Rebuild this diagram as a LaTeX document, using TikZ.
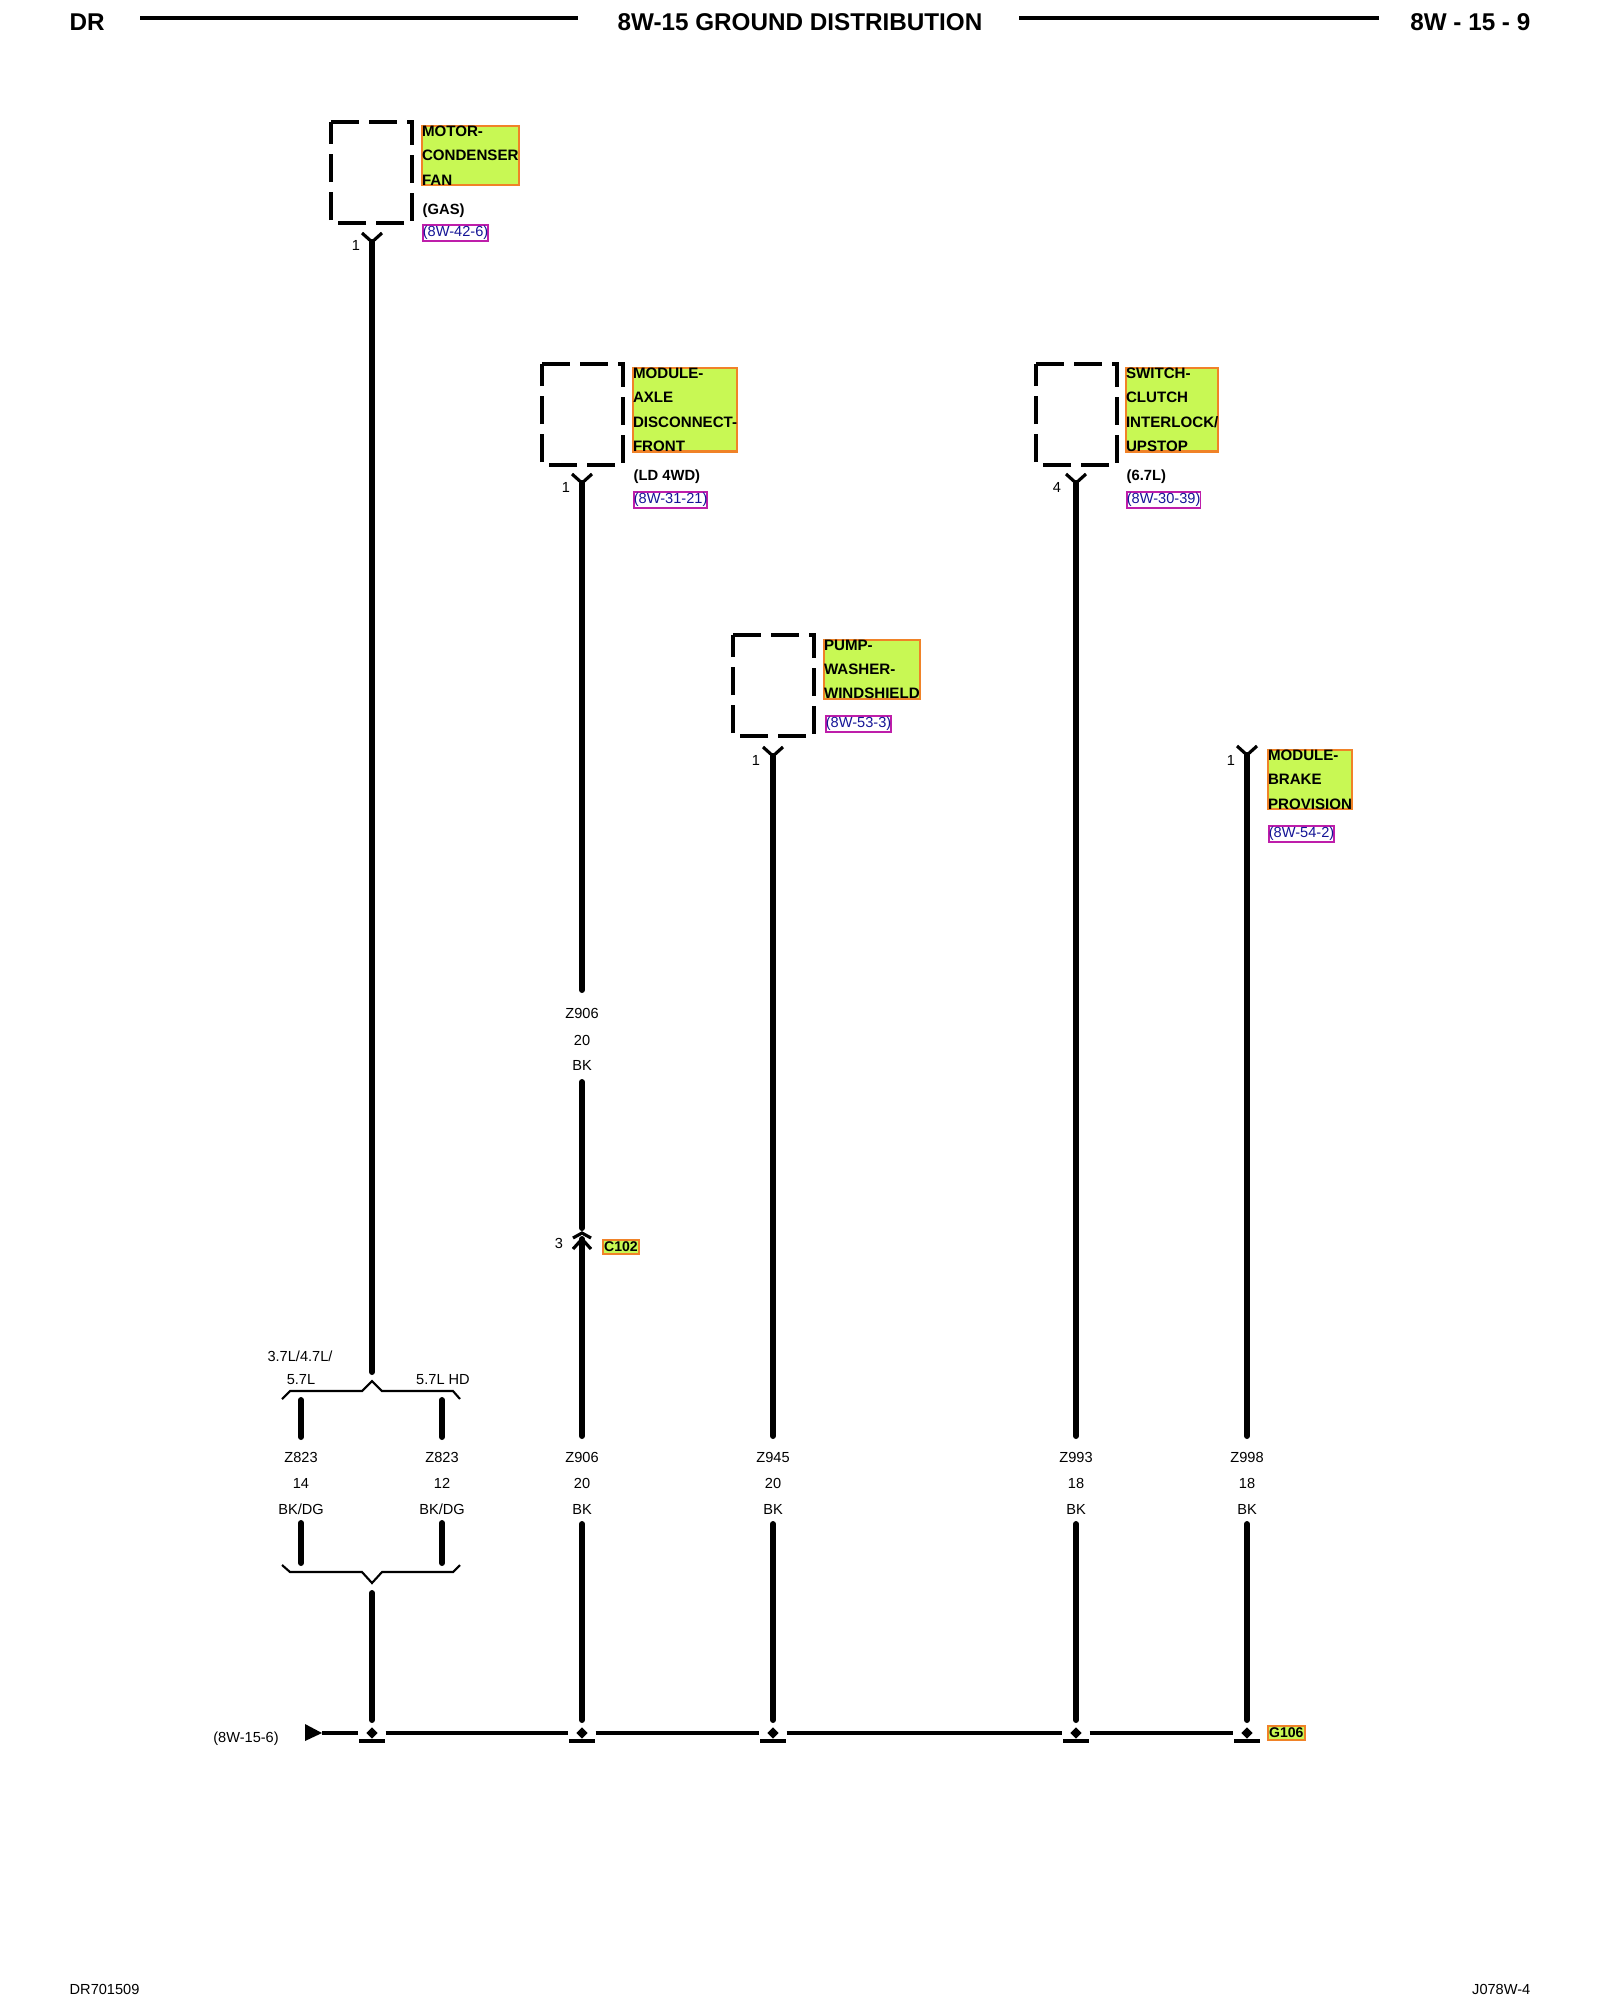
\documentclass[tikz,border=0pt]{standalone}
\usepackage{fontspec}
\setmainfont{Liberation Sans}
\usepackage{xcolor}
\usetikzlibrary{shapes.geometric}

\definecolor{tagfill}{RGB}{200,248,84}
\definecolor{tagedge}{RGB}{240,130,40}
\definecolor{refedge}{RGB}{190,30,170}
\definecolor{reftext}{RGB}{20,20,150}

\tikzset{
  wire/.style={line width=1.7pt, line cap=round},
  bus/.style={line width=1.1pt},
  busline/.style={line width=1.1pt, shorten <=0.07cm, shorten >=0.07cm},
  thin wire/.style={line width=0.6pt},
  yconn/.style={line width=0.9pt},
  headline/.style={line width=1.1pt},
  compbox/.style={line width=1pt, dash pattern=on 0.28cm off 0.10cm},
  comptag/.style={draw=tagedge, line width=0.6pt, fill=tagfill, inner sep=0pt, outer sep=0pt, align=left, anchor=north west, font=\bfseries\fontsize{4.3}{6.9}\selectfont},
  conntag/.style={draw=tagedge, line width=0.6pt, fill=tagfill, inner xsep=0.3pt, inner ysep=0.6pt, anchor=west, font=\bfseries\fontsize{4}{5}\selectfont},
  reftag/.style={draw=refedge, line width=0.5pt, text=reftext, inner xsep=0pt, inner ysep=0.4pt, anchor=west, font=\fontsize{4.15}{5}\selectfont},
  note/.style={inner sep=0pt, anchor=west, font=\bfseries\fontsize{4.2}{5}\selectfont},
  lab/.style={inner sep=0pt, font=\fontsize{4.15}{5}\selectfont},
  head/.style={inner sep=0pt, font=\bfseries\fontsize{6.9}{8}\selectfont},
  foot/.style={inner sep=0pt, font=\fontsize{4.15}{5}\selectfont},
  gnddot/.style={diamond, fill=black, minimum size=0.12cm, inner sep=0pt}
}

\begin{document}
\begin{tikzpicture}
    \useasboundingbox (0,0) rectangle (16,-20);

    % Page header
    \node[head, anchor=west] (hdrDR) at (0.69,-0.22) {DR};
    \node[head] (hdrTitle) at (8.00,-0.22) {8W-15 GROUND DISTRIBUTION};
    \node[head, anchor=east] (hdrPage) at (15.31,-0.22) {8W - 15 - 9};
    \coordinate (ruleA) at (1.40,-0.18);
    \coordinate (ruleB) at (5.78,-0.18);
    \coordinate (ruleC) at (10.19,-0.18);
    \coordinate (ruleD) at (13.79,-0.18);
    \draw[headline] (ruleA) -- (ruleB);
    \draw[headline] (ruleC) -- (ruleD);

    % Page footer
    \node[foot, anchor=west] (ftrLeft) at (0.69,-19.89) {DR701509};
    \node[foot, anchor=east] (ftrRight) at (15.31,-19.89) {J078W-4};

    % Component boxes
    \coordinate (boxMotor) at (3.31,-1.22);
    \coordinate (boxAxle) at (5.42,-3.64);
    \coordinate (boxPump) at (7.33,-6.35);
    \coordinate (boxClutch) at (10.36,-3.64);
    \draw[compbox] (boxMotor) -- ++(0.81,0) -- ++(0,-1.01) -- ++(-0.81,0) -- cycle;
    \draw[compbox] (boxAxle) -- ++(0.81,0) -- ++(0,-1.01) -- ++(-0.81,0) -- cycle;
    \draw[compbox] (boxPump) -- ++(0.81,0) -- ++(0,-1.01) -- ++(-0.81,0) -- cycle;
    \draw[compbox] (boxClutch) -- ++(0.81,0) -- ++(0,-1.01) -- ++(-0.81,0) -- cycle;

    % Component names
    \node[comptag] (tagMotor) at (4.22,-1.26) {MOTOR-\\CONDENSER\\FAN};
    \node[comptag] (tagAxle) at (6.33,-3.68) {MODULE-\\AXLE\\DISCONNECT-\\FRONT};
    \node[comptag] (tagPump) at (8.24,-6.40) {PUMP-\\WASHER-\\WINDSHIELD};
    \node[comptag] (tagClutch) at (11.26,-3.68) {SWITCH-\\CLUTCH\\INTERLOCK/\\UPSTOP};
    \node[comptag] (tagBrake) at (12.68,-7.50) {MODULE-\\BRAKE\\PROVISION};

    % Notes and page references
    \node[note] (noteGas) at (4.22,-2.11) {(GAS)};
    \node[note] (noteLD) at (6.33,-4.77) {(LD 4WD)};
    \node[note] (noteCyl) at (11.26,-4.77) {(6.7L)};
    \node[reftag] (refMotor) at (4.22,-2.33) {(8W-42-6)};
    \node[reftag] (refAxle) at (6.33,-5.00) {(8W-31-21)};
    \node[reftag] (refPump) at (8.25,-7.24) {(8W-53-3)};
    \node[reftag] (refClutch) at (11.26,-5.00) {(8W-30-39)};
    \node[reftag] (refBrake) at (12.68,-8.34) {(8W-54-2)};

    % Pin numbers
    \node[lab] (pinMotor) at (3.56,-2.45) {1};
    \node[lab] (pinAxle) at (5.66,-4.87) {1};
    \node[lab] (pinPump) at (7.56,-7.60) {1};
    \node[lab] (pinClutch) at (10.57,-4.87) {4};
    \node[lab] (pinBrake) at (12.31,-7.60) {1};
    \node[lab] (pinSplice) at (5.59,-12.43) {3};

    % Wire ends at the top
    \coordinate (motorA) at (3.72,-2.42);
    \coordinate (axleA) at (5.82,-4.83);
    \coordinate (pumpA) at (7.73,-7.56);
    \coordinate (clutchA) at (10.76,-4.83);
    \coordinate (brakeA) at (12.47,-7.55);

    % Forked pin ends
    \draw[yconn] (motorA) ++(-0.10,0.09) -- (motorA) -- ++(0.10,0.09);
    \draw[yconn] (axleA) ++(-0.10,0.09) -- (axleA) -- ++(0.10,0.09);
    \draw[yconn] (pumpA) ++(-0.10,0.09) -- (pumpA) -- ++(0.10,0.09);
    \draw[yconn] (clutchA) ++(-0.10,0.09) -- (clutchA) -- ++(0.10,0.09);
    \draw[yconn] (brakeA) ++(-0.10,0.09) -- (brakeA) -- ++(0.10,0.09);

    % Wire labels
    \node[lab] (nameL) at (3.01,-14.57) {Z823};
    \node[lab] (gaugeL) at (3.01,-14.83) {14};
    \node[lab] (colorL) at (3.01,-15.09) {BK/DG};
    \node[lab] (nameR) at (4.42,-14.57) {Z823};
    \node[lab] (gaugeR) at (4.42,-14.83) {12};
    \node[lab] (colorR) at (4.42,-15.09) {BK/DG};
    \node[lab] (nameAxle) at (5.82,-14.57) {Z906};
    \node[lab] (gaugeAxle) at (5.82,-14.83) {20};
    \node[lab] (colorAxle) at (5.82,-15.09) {BK};
    \node[lab] (nameUp) at (5.82,-10.13) {Z906};
    \node[lab] (gaugeUp) at (5.82,-10.40) {20};
    \node[lab] (colorUp) at (5.82,-10.65) {BK};
    \node[lab] (namePump) at (7.73,-14.57) {Z945};
    \node[lab] (gaugePump) at (7.73,-14.83) {20};
    \node[lab] (colorPump) at (7.73,-15.09) {BK};
    \node[lab] (nameClutch) at (10.76,-14.57) {Z993};
    \node[lab] (gaugeClutch) at (10.76,-14.83) {18};
    \node[lab] (colorClutch) at (10.76,-15.09) {BK};
    \node[lab] (nameBrake) at (12.47,-14.57) {Z998};
    \node[lab] (gaugeBrake) at (12.47,-14.83) {18};
    \node[lab] (colorBrake) at (12.47,-15.09) {BK};

    % Variant labels
    \node[lab] (varTop) at (3.00,-13.56) {3.7L/4.7L/};
    \node[lab] (varL) at (3.01,-13.80) {5.7L};
    \node[lab] (varR) at (4.43,-13.80) {5.7L HD};

    % Ground bus points
    \node[gnddot] (gndMotor) at (3.72,-17.33) {};
    \node[gnddot] (gndAxle) at (5.82,-17.33) {};
    \node[gnddot] (gndPump) at (7.73,-17.33) {};
    \node[gnddot] (gndClutch) at (10.76,-17.33) {};
    \node[gnddot] (gndBrake) at (12.47,-17.33) {};

    % Wire ends around the labels
    \coordinate (motorB) at (3.72,-13.72);
    \coordinate (motorC) at (3.72,-15.93);
    \coordinate (motorD) at (3.72,-17.20);
    \coordinate (axleB) at (5.82,-9.90);
    \coordinate (axleC) at (5.82,-10.82);
    \coordinate (axleD) at (5.82,-12.28);
    \coordinate (axleE) at (5.82,-12.39);
    \coordinate (axleF) at (5.82,-14.36);
    \coordinate (axleG) at (5.82,-15.24);
    \coordinate (axleH) at (5.82,-17.20);
    \coordinate (pumpB) at (7.73,-14.36);
    \coordinate (pumpC) at (7.73,-15.24);
    \coordinate (pumpD) at (7.73,-17.20);
    \coordinate (clutchB) at (10.76,-14.36);
    \coordinate (clutchC) at (10.76,-15.24);
    \coordinate (clutchD) at (10.76,-17.20);
    \coordinate (brakeB) at (12.47,-14.36);
    \coordinate (brakeC) at (12.47,-15.24);
    \coordinate (brakeD) at (12.47,-17.20);

    % Drawing the wires
    \draw[wire] (motorA) -- (motorB);
    \draw[wire] (motorC) -- (motorD);
    \draw[wire] (axleA) -- (axleB);
    \draw[wire] (axleC) -- (axleD);
    \draw[wire] (axleE) -- (axleF);
    \draw[wire] (axleG) -- (axleH);
    \draw[wire] (pumpA) -- (pumpB);
    \draw[wire] (pumpC) -- (pumpD);
    \draw[wire] (clutchA) -- (clutchB);
    \draw[wire] (clutchC) -- (clutchD);
    \draw[wire] (brakeA) -- (brakeB);
    \draw[wire] (brakeC) -- (brakeD);

    % Inline connector C102
    \draw[yconn] (axleD) ++(-0.09,-0.10) -- ++(0.09,0.05) -- ++(0.09,-0.05);
    \draw[yconn] (axleE) ++(-0.09,-0.10) -- (axleE) -- ++(0.09,-0.10);
    \node[conntag] (tagSplice) at (6.02,-12.47) {C102};

    % Split into the two variants, upper brace
    \coordinate (braceTL) at (2.82,-13.99);
    \coordinate (braceTR) at (4.60,-13.99);
    \draw[thin wire] (braceTL) -- ++(0.08,0.08) -- (3.62,-13.91) -- (3.72,-13.81) -- (3.82,-13.91) -- (4.53,-13.91) -- (braceTR);

    % Lower brace
    \coordinate (braceBL) at (2.82,-15.65);
    \coordinate (braceBR) at (4.60,-15.65);
    \draw[thin wire] (braceBL) -- ++(0.08,-0.07) -- (3.62,-15.72) -- (3.72,-15.83) -- (3.82,-15.72) -- (4.53,-15.72) -- (braceBR);

    % Variant stubs
    \coordinate (stubLa) at (3.01,-14.00);
    \coordinate (stubLb) at (3.01,-14.37);
    \coordinate (stubLc) at (3.01,-15.23);
    \coordinate (stubLd) at (3.01,-15.63);
    \coordinate (stubRa) at (4.42,-14.00);
    \coordinate (stubRb) at (4.42,-14.37);
    \coordinate (stubRc) at (4.42,-15.23);
    \coordinate (stubRd) at (4.42,-15.63);
    \draw[wire] (stubLa) -- (stubLb);
    \draw[wire] (stubLc) -- (stubLd);
    \draw[wire] (stubRa) -- (stubRb);
    \draw[wire] (stubRc) -- (stubRd);

    % Ground bus
    \coordinate (busTip) at (3.22,-17.33);
    \fill (busTip) -- ++(-0.17,-0.08) -- ++(0,0.17) -- cycle;
    \draw[busline, shorten <=0pt] (busTip) -- (gndMotor);
    \draw[busline] (gndMotor) -- (gndAxle);
    \draw[busline] (gndAxle) -- (gndPump);
    \draw[busline] (gndPump) -- (gndClutch);
    \draw[busline] (gndClutch) -- (gndBrake);
    \node[lab] (refBus) at (2.46,-17.39) {(8W-15-6)};
    \node[conntag] (tagGround) at (12.67,-17.33) {G106};

    % Ground bars
    \draw[bus] (gndMotor) ++(-0.13,-0.08) -- ++(0.26,0);
    \draw[bus] (gndAxle) ++(-0.13,-0.08) -- ++(0.26,0);
    \draw[bus] (gndPump) ++(-0.13,-0.08) -- ++(0.26,0);
    \draw[bus] (gndClutch) ++(-0.13,-0.08) -- ++(0.26,0);
    \draw[bus] (gndBrake) ++(-0.13,-0.08) -- ++(0.26,0);

\end{tikzpicture}
\end{document}
